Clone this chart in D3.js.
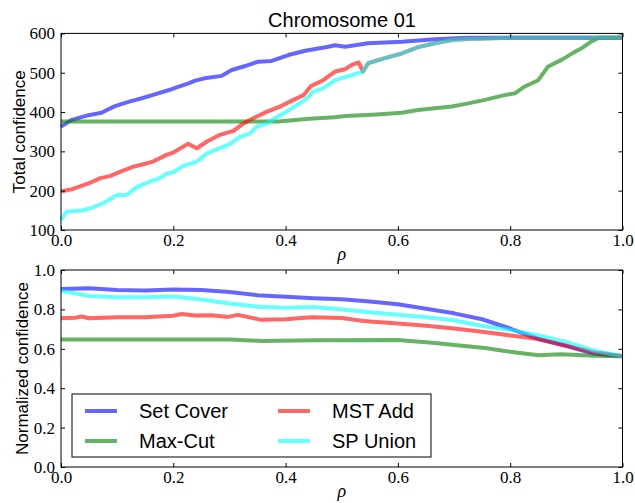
<!DOCTYPE html>
<html>
<head>
<meta charset="utf-8">
<script src="https://cdn.jsdelivr.net/npm/d3@7"></script>
<style>
  body { margin: 0; background: #fff; }
</style>
</head>
<body>
<script>
// ---- data ----
// top panel: total confidence vs rho
const coverRho   = [0, 0.019, 0.049, 0.072, 0.096, 0.12, 0.144, 0.167, 0.197, 0.227, 0.239, 0.256, 0.286, 0.304, 0.328, 0.351, 0.375, 0.405, 0.435, 0.476, 0.488, 0.506, 0.547, 0.607, 0.666, 0.725, 0.8, 1.0]
const coverTotal = [363, 380, 392, 398, 415, 426, 435, 445, 458, 473, 480, 486, 492, 507, 517, 528, 530, 545, 556, 566, 570, 566, 575, 579, 585, 589, 589, 589]

const cutRho   = [0, 0.387, 0.443, 0.488, 0.506, 0.562, 0.607, 0.636, 0.696, 0.725, 0.755, 0.79, 0.809, 0.826, 0.85, 0.867, 0.893, 0.915, 0.927, 0.944, 0.958, 1.0]
const cutTotal = [376, 376, 383, 387, 390, 394, 398, 405, 414, 422, 431, 443, 448, 465, 481, 515, 534, 553, 562, 579, 589, 589]

const mstRho   = [0, 0.02, 0.05, 0.07, 0.087, 0.105, 0.129, 0.164, 0.188, 0.2, 0.226, 0.242, 0.26, 0.283, 0.307, 0.325, 0.342, 0.367, 0.39, 0.414, 0.432, 0.445, 0.467, 0.488, 0.506, 0.518, 0.53, 0.538, 0.547, 0.577, 0.607, 0.636, 0.666, 0.696, 0.725, 0.8, 1.0]
const mstTotal = [198, 204, 219, 232, 237, 248, 261, 274, 291, 297, 319, 308, 325, 342, 352, 371, 384, 401, 414, 431, 443, 466, 481, 503, 509, 520, 526, 503, 524, 537, 549, 565, 575, 583, 586, 589, 589]

const spRho   = [0, 0.01, 0.034, 0.052, 0.075, 0.1, 0.117, 0.135, 0.158, 0.176, 0.188, 0.2, 0.218, 0.242, 0.26, 0.283, 0.3, 0.319, 0.337, 0.349, 0.367, 0.385, 0.402, 0.425, 0.438, 0.449, 0.467, 0.488, 0.518, 0.538, 0.547, 0.577, 0.607, 0.636, 0.666, 0.696, 0.725, 0.8, 1.0]
const spTotal = [126, 147, 149, 155, 168, 189, 189, 209, 223, 232, 243, 247, 263, 274, 295, 308, 318, 337, 346, 363, 371, 388, 401, 422, 435, 452, 460, 481, 494, 503, 524, 537, 549, 565, 575, 583, 586, 589, 589]

// bottom panel: normalized confidence vs rho
const normRho   = [0, 0.05, 0.1, 0.15, 0.2, 0.25, 0.3, 0.35, 0.4, 0.45, 0.5, 0.55, 0.6, 0.65, 0.7, 0.75, 0.8, 0.85, 0.9, 0.95, 1.0]
const coverNorm = [0.904, 0.907, 0.899, 0.896, 0.901, 0.898, 0.888, 0.872, 0.864, 0.857, 0.851, 0.84, 0.826, 0.803, 0.78, 0.75, 0.703, 0.65, 0.614, 0.575, 0.562]
const spNorm    = [0.894, 0.868, 0.862, 0.862, 0.865, 0.85, 0.83, 0.814, 0.808, 0.812, 0.8, 0.786, 0.773, 0.76, 0.745, 0.716, 0.696, 0.668, 0.635, 0.59, 0.562]

const mstNormRho = [0, 0.025, 0.037, 0.05, 0.075, 0.1, 0.15, 0.2, 0.215, 0.239, 0.268, 0.298, 0.315, 0.34, 0.357, 0.4, 0.446, 0.5, 0.536, 0.55, 0.6, 0.65, 0.7, 0.75, 0.8, 0.85, 0.9, 0.95, 1.0]
const mstNorm    = [0.755, 0.758, 0.764, 0.755, 0.757, 0.76, 0.76, 0.768, 0.777, 0.769, 0.77, 0.762, 0.772, 0.757, 0.747, 0.75, 0.76, 0.756, 0.742, 0.738, 0.728, 0.717, 0.703, 0.686, 0.668, 0.65, 0.617, 0.582, 0.562]

const cutNormRho = [0, 0.3, 0.357, 0.45, 0.6, 0.666, 0.714, 0.755, 0.8, 0.85, 0.89, 0.95, 1.0]
const cutNorm    = [0.647, 0.647, 0.64, 0.643, 0.645, 0.629, 0.615, 0.604, 0.585, 0.567, 0.572, 0.565, 0.562]

const xTicks     = [0, 0.2, 0.4, 0.6, 0.8, 1.0]
const totalTicks = [100, 200, 300, 400, 500, 600]
const normTicks  = [0, 0.2, 0.4, 0.6, 0.8, 1.0]

const names  = ['Set Cover', 'Max-Cut', 'MST Add', 'SP Union']
const colors = ['#0000ff', '#008000', '#ff0000', '#00ffff']

// ---- drawing ----
const svg = d3.select('body').append('svg').attr('width', 635).attr('height', 503)

const xScale = d3.scaleLinear().domain([0, 1]).range([61, 622.5])
const yTop = d3.scaleLinear().domain([100, 600]).range([230, 33.4])
const yBot = d3.scaleLinear().domain([0, 1]).range([467, 270])

function drawPanel(yScale, yTicks, yFormat, ylabel, series) {
    const [y0, y1] = yScale.range()
    const [x0, x1] = xScale.range()

    // lines first, frame on top
    series.forEach((s, i) => {
        const line = d3.line().x((d, j) => xScale(s.rho[j])).y(d => yScale(d))
        svg.append('path').datum(s.vals)
            .attr('fill', 'none')
            .attr('stroke', s.color)
            .attr('stroke-opacity', 0.6)
            .attr('stroke-width', 4)
            .attr('stroke-linejoin', 'round')
            .attr('d', line)
    })

    const bottom = svg.append('g').attr('transform', `translate(0, ${y0})`)
        .call(d3.axisBottom(xScale).tickValues(xTicks).tickFormat(d3.format('.1f')).tickSizeInner(-4).tickSizeOuter(0).tickPadding(4))
    const top = svg.append('g').attr('transform', `translate(0, ${y1})`)
        .call(d3.axisTop(xScale).tickValues(xTicks).tickFormat('').tickSizeInner(-4).tickSizeOuter(0))
    const left = svg.append('g').attr('transform', `translate(${x0}, 0)`)
        .call(d3.axisLeft(yScale).tickValues(yTicks).tickFormat(yFormat).tickSizeInner(-4).tickSizeOuter(0).tickPadding(6))
    const right = svg.append('g').attr('transform', `translate(${x1}, 0)`)
        .call(d3.axisRight(yScale).tickValues(yTicks).tickFormat('').tickSizeInner(-4).tickSizeOuter(0))

    ;[bottom, top, left, right].forEach(g => {
        g.select('.domain').remove()
        g.selectAll('line').attr('stroke', '#000')
        g.selectAll('text').attr('font-family', 'Liberation Serif').attr('font-size', 17).attr('fill', '#000')
    })

    svg.append('rect').attr('x', x0).attr('y', y1).attr('width', x1 - x0).attr('height', y0 - y1)
        .attr('fill', 'none').attr('stroke', '#000').attr('stroke-width', 1)

    // axis labels
    svg.append('text').attr('x', (x0 + x1) / 2).attr('y', y0 + 30)
        .attr('text-anchor', 'middle').attr('font-family', 'Liberation Serif').attr('font-style', 'italic')
        .attr('font-size', 18).text('ρ')
    svg.append('text').attr('transform', `translate(${ylabel.x}, ${(y0 + y1) / 2}) rotate(-90)`)
        .attr('text-anchor', 'middle').attr('font-family', 'Liberation Sans').attr('font-size', 17)
        .text(ylabel.text)
}

drawPanel(yTop, totalTicks, d3.format('d'), { text: 'Total confidence', x: 25 }, [
    { rho: coverRho, vals: coverTotal, color: colors[0] },
    { rho: cutRho, vals: cutTotal, color: colors[1] },
    { rho: mstRho, vals: mstTotal, color: colors[2] },
    { rho: spRho, vals: spTotal, color: colors[3] }
])

drawPanel(yBot, normTicks, d3.format('.1f'), { text: 'Normalized confidence', x: 28 }, [
    { rho: normRho, vals: coverNorm, color: colors[0] },
    { rho: cutNormRho, vals: cutNorm, color: colors[1] },
    { rho: mstNormRho, vals: mstNorm, color: colors[2] },
    { rho: normRho, vals: spNorm, color: colors[3] }
])

// title
svg.append('text').attr('x', 342).attr('y', 27).attr('text-anchor', 'middle')
    .attr('font-family', 'Liberation Sans').attr('font-size', 20).text('Chromosome 01')

// legend, two columns, filled column by column
const legend = svg.append('g').attr('transform', 'translate(72, 394)')
legend.append('rect').attr('width', 359).attr('height', 63)
    .attr('fill', '#fff').attr('stroke', '#000').attr('stroke-width', 1)

names.forEach((name, i) => {
    const col = Math.floor(i / 2), row = i % 2
    const gx = col * 193, gy = 17 + row * 30
    legend.append('line').attr('x1', gx + 13).attr('x2', gx + 45).attr('y1', gy).attr('y2', gy)
        .attr('stroke', colors[i]).attr('stroke-opacity', 0.6).attr('stroke-width', 4)
    legend.append('text').attr('x', gx + 67).attr('y', gy + 7)
        .attr('font-family', 'Liberation Sans').attr('font-size', 20).text(name)
})
</script>
</body>
</html>
